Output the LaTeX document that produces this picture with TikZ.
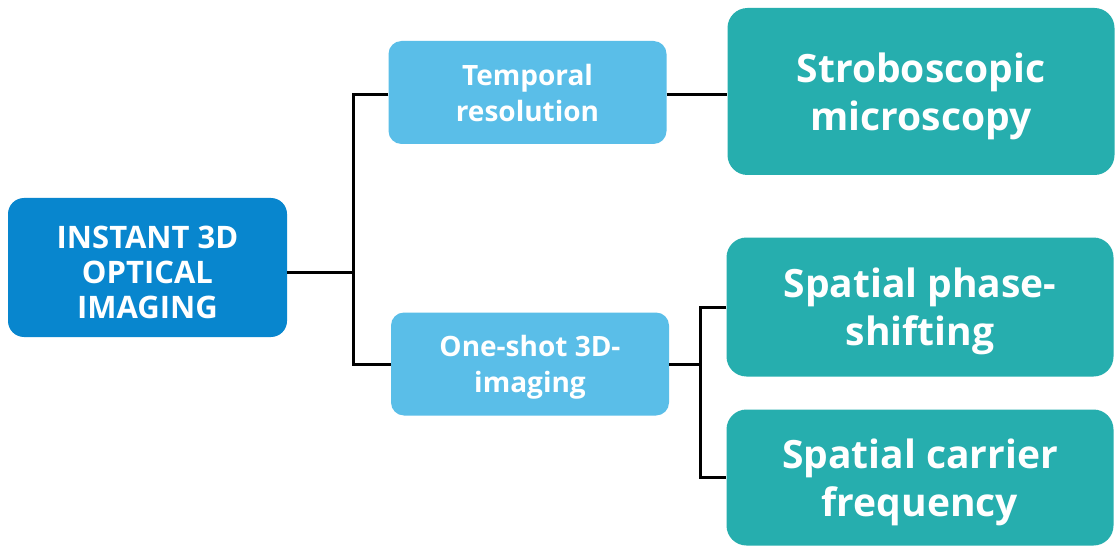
\documentclass[tikz,border=0pt]{standalone}
\usepackage{fontspec}
\setmainfont{Open Sans}
\definecolor{rootblue}{RGB}{8,134,206}
\definecolor{lightblue}{RGB}{90,190,232}
\definecolor{tealbox}{RGB}{38,174,174}
\tikzset{
  box/.style={draw=none, rounded corners=16pt, align=center, text=white, inner sep=0pt, text depth=0pt},
  rootbox/.style={box, fill=rootblue, minimum width=279pt, minimum height=139pt, font=\bfseries\fontsize{31}{35}\selectfont},
  midbox/.style={box, fill=lightblue, rounded corners=13pt, minimum width=278pt, minimum height=103pt, font=\bfseries\fontsize{28}{36}\selectfont},
  leafbox/.style={box, fill=tealbox, rounded corners=20pt, minimum width=387pt, text depth=-3pt, font=\bfseries\fontsize{39}{48}\selectfont},
  conn/.style={line width=3pt, black}
}
\begin{document}
\begin{tikzpicture}[x=1pt,y=-1pt]
\path[use as bounding box, fill=white] (0,0) rectangle (1116,548);
\node[rootbox] (root) at (147.5,267.5) {\rule{0pt}{31pt}INSTANT 3D\\OPTICAL\\IMAGING};
\node[midbox] (temp) at (527.5,92.5) {Temporal\\resolution};
\node[midbox] (one) at (530,364) {One-shot 3D-\\imaging};
\node[leafbox, minimum height=167pt] (strobo) at (921,91.5) {Stroboscopic\\microscopy};
\node[leafbox, minimum height=139pt] (phase) at (920,307) {Spatial phase-\\shifting};
\node[leafbox, minimum height=136pt] (carrier) at (920,477.5) {Spatial carrier\\frequency};
\coordinate (j1) at (353,272);
\coordinate (j2) at (700,364);
\draw[conn] (root.east |- j1) -- (j1);
\draw[conn] (temp.west |- 0,95) -| (j1) |- (one.west);
\draw[conn] (temp.east |- 0,95) -- (strobo.west |- 0,95);
\draw[conn] (one.east) -- (j2);
\draw[conn] (phase.west) -| (j2) |- (carrier.west);
\end{tikzpicture}
\end{document}
